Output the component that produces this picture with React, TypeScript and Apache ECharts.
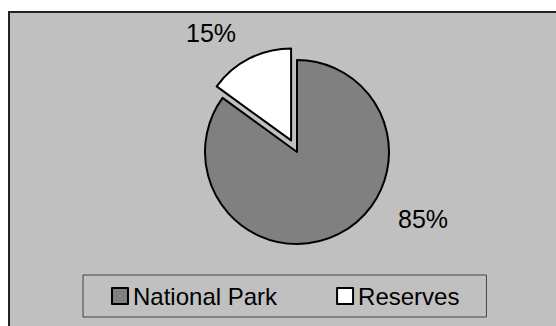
import React, { useEffect, useRef } from "react";
import * as echarts from "echarts";

const categories = ["National Park", "Reserves"];
const values = [85, 15];
const sliceColors = ["#808080", "#ffffff"];

const FONT = "'Liberation Sans', Arial, sans-serif";

export default function App() {
  const ref = useRef<HTMLDivElement>(null);
  useEffect(() => {
    if (!ref.current) return;
    const chart = echarts.init(ref.current, null, { renderer: "svg" });
    const total = values.reduce((a, b) => a + b, 0);
    const pct = values.map((v) => Math.round((v / total) * 100) + "%");
    const data = categories.map((name, i) => ({
      name,
      value: values[i],
      selected: i === 1,
      itemStyle: { color: sliceColors[i] },
    }));
    const labelPos = [
      [423, 219],
      [211, 33],
    ];
    chart.setOption({
      animation: false,
      backgroundColor: "#ffffff",
      graphic: [
        {
          type: "rect",
          z: -10,
          shape: { x: 9, y: 12, width: 600, height: 400 },
          style: { fill: "#c0c0c0", stroke: "#222222", lineWidth: 2 },
          silent: true,
        },
        ...pct.map((t, i) => ({
          type: "text",
          z: 10,
          x: labelPos[i][0],
          y: labelPos[i][1],
          silent: true,
          style: {
            text: t,
            fontFamily: FONT,
            fontSize: 25,
            fill: "#000000",
            align: "center",
            verticalAlign: "middle",
          },
        })),
      ],
      legend: {
        data: categories,
        left: 83,
        top: 275,
        orient: "horizontal",
        padding: [9, 27, 9, 28],
        borderColor: "#444444",
        borderWidth: 1,
        backgroundColor: "transparent",
        icon: "rect",
        itemWidth: 16,
        itemHeight: 16,
        itemGap: 59,
        itemStyle: { borderColor: "#000000", borderWidth: 2 },
        textStyle: { fontFamily: FONT, fontSize: 24, color: "#000000" },
        selectedMode: false,
      },
      series: [
        {
          type: "pie",
          center: [297, 152],
          radius: 92,
          startAngle: 90,
          clockwise: true,
          selectedMode: "single",
          selectedOffset: 13,
          avoidLabelOverlap: false,
          itemStyle: { borderColor: "#000000", borderWidth: 2 },
          emphasis: { disabled: true },
          label: { show: false },
          labelLine: { show: false },
          data,
        },
      ],
    });
    return () => chart.dispose();
  }, []);
  return (
    <div
      ref={ref}
      style={{ position: "fixed", left: 0, top: 0, width: 556, height: 326 }}
    />
  );
}
